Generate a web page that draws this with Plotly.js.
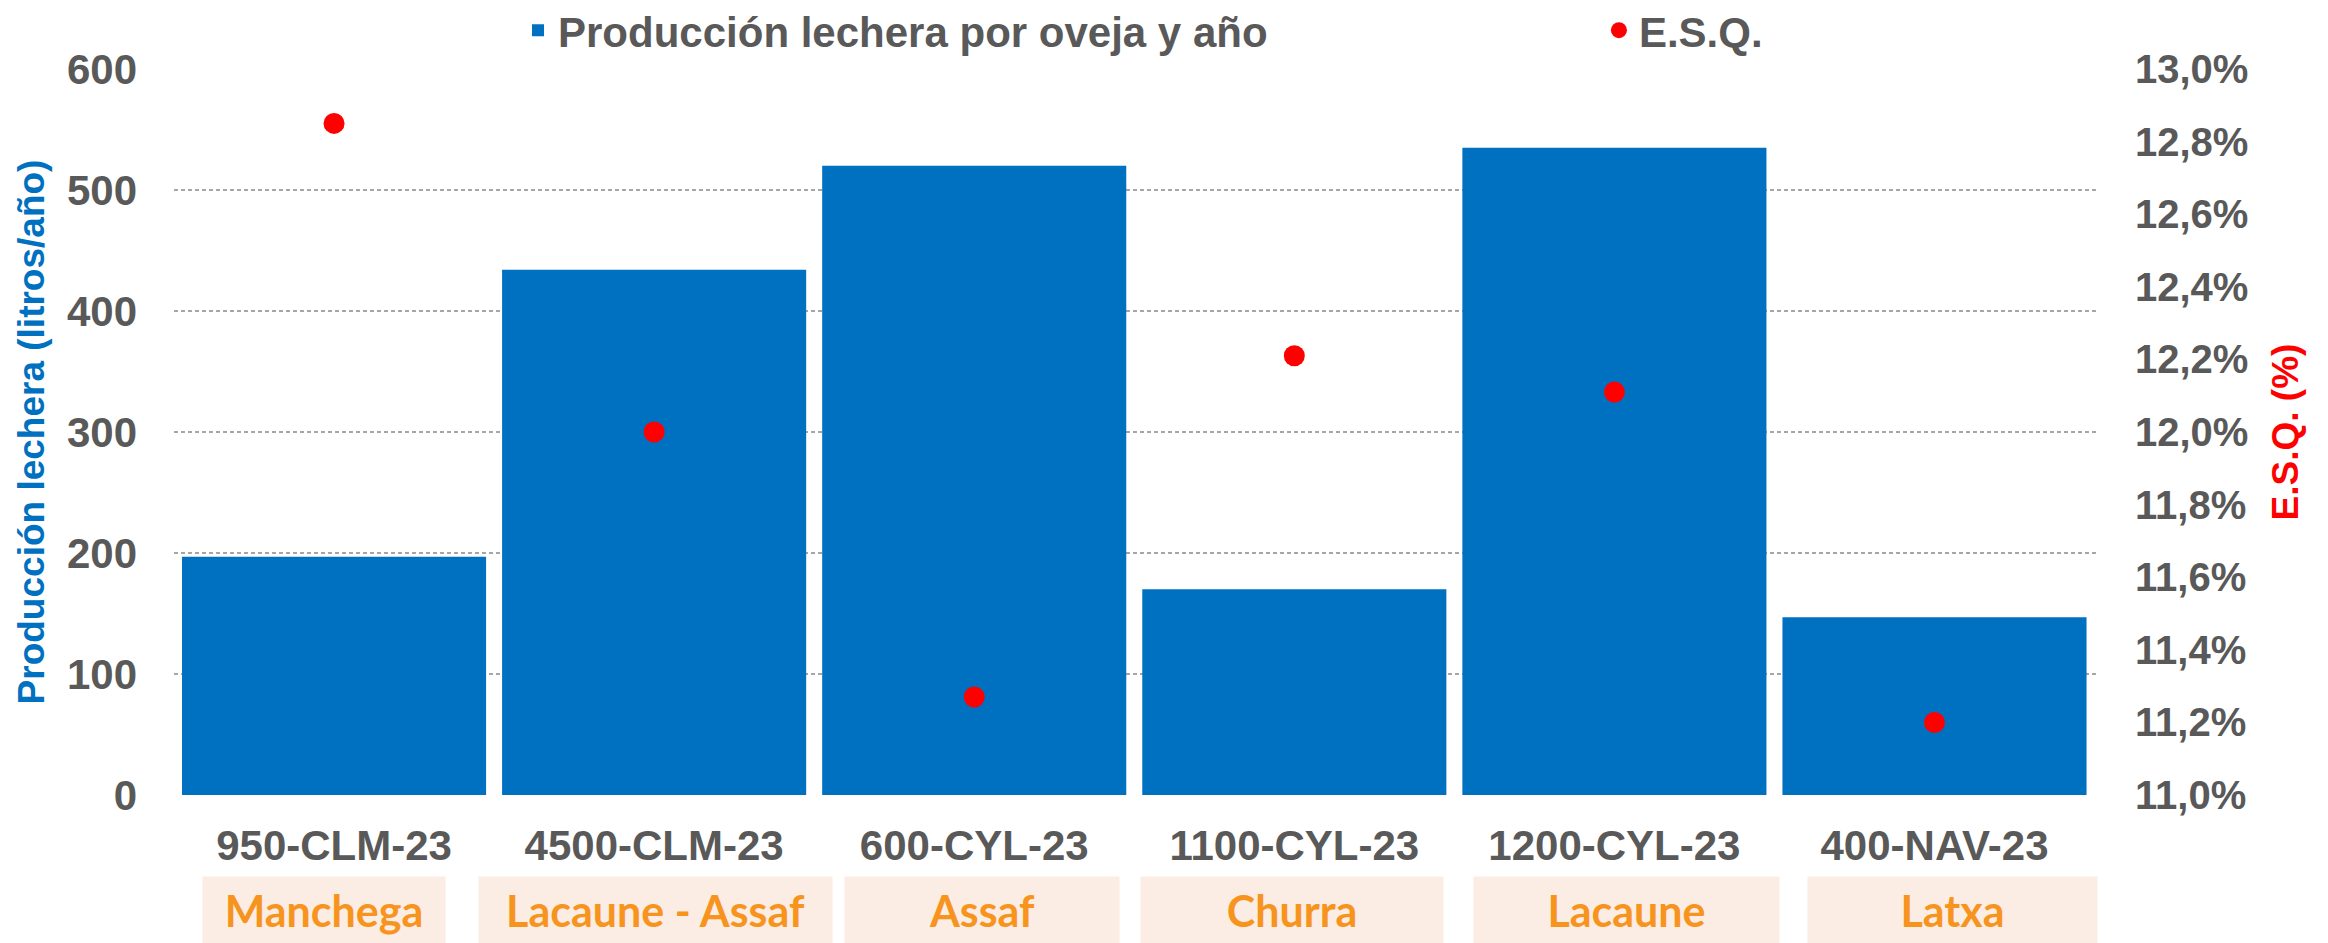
<!DOCTYPE html>
<html><head><meta charset="utf-8">
<script src="https://cdn.plot.ly/plotly-3.0.1.min.js"></script>
<style>html,body{margin:0;padding:0;background:#fff}#chart{width:2328px;height:943px}</style>
</head><body><div id="chart"></div>
<script>
// ---- data ----
const farms = ['950-CLM-23', '4500-CLM-23', '600-CYL-23', '1100-CYL-23', '1200-CYL-23', '400-NAV-23'];
const breeds = ['Manchega', 'Lacaune - Assaf', 'Assaf', 'Churra', 'Lacaune', 'Latxa'];
const milkPerEwe = [197, 434, 520, 170, 535, 147];
const esq = [12.85, 12.0, 11.27, 12.21, 12.11, 11.2];
const leftTicks = [0, 100, 200, 300, 400, 500, 600];
const rightTicks = [11.0, 11.2, 11.4, 11.6, 11.8, 12.0, 12.2, 12.4, 12.6, 12.8, 13.0];
const rightTickText = rightTicks.map(v => v.toFixed(1).replace('.', ',') + '%');
const barName = 'Producción lechera por oveja y año';
const dotName = 'E.S.Q.';
const leftTitle = 'Producción lechera (litros/año)';
const rightTitle = 'E.S.Q. (%)';

// ---- styling only ----
const breedBoxWidths = [242, 353, 274, 302, 305, 289];
const breedBoxShifts = [-10, 1, 8, -2, 12, 18];
const FONT = 'Liberation Sans, Arial, sans-serif';
const GREY = '#595959';

const traces = [
  {
    type: 'bar', name: barName, x: farms, y: milkPerEwe,
    marker: {color: '#0070C0'}, yaxis: 'y', legend: 'legend'
  },
  {
    type: 'scatter', mode: 'markers', name: dotName, x: farms, y: esq,
    marker: {color: '#FF0000', size: 21}, yaxis: 'y2', legend: 'legend2'
  }
];

const annotations = breeds.map((b, i) => ({
  xref: 'x', yref: 'paper', x: farms[i], y: -0.1116, yanchor: 'top',
  xanchor: 'center', xshift: breedBoxShifts[i],
  text: b, showarrow: false,
  width: breedBoxWidths[i], height: 67, borderpad: 0,
  bgcolor: '#FBECE4', valign: 'middle',
  font: {family: 'Lato, Noto Sans, sans-serif', size: 43, color: '#F7941D', weight: 'bold'}
}));

const legendFont = {family: FONT, size: 42, color: GREY, weight: 'bold'};

const layout = {
  width: 2328, height: 943,
  margin: {l: 174, r: 230, t: 69, b: 148, pad: 0, autoexpand: false},
  paper_bgcolor: '#FFFFFF', plot_bgcolor: '#FFFFFF',
  separators: ',.',
  bargap: 0.05,
  font: {family: FONT, color: GREY},
  showlegend: true,
  legend: {
    orientation: 'h', x: 0.1788, xanchor: 'left', y: 1.1, yanchor: 'top',
    font: legendFont, bgcolor: 'rgba(0,0,0,0)'
  },
  legend2: {
    orientation: 'h', x: 0.7406, xanchor: 'left', y: 1.1, yanchor: 'top',
    font: legendFont, bgcolor: 'rgba(0,0,0,0)'
  },
  xaxis: {
    type: 'category', showgrid: false, showline: false, zeroline: false,
    ticks: '', ticklabelstandoff: 22, automargin: false,
    tickfont: {family: FONT, size: 42, color: GREY, weight: 'bold'}
  },
  yaxis: {
    range: [0, 600], tickvals: leftTicks, showline: false, zeroline: false,
    showgrid: true, gridcolor: '#A6A6A6', gridwidth: 2, griddash: '4px,3px',
    ticks: '', ticklabelstandoff: 36, automargin: false,
    tickfont: {family: FONT, size: 42, color: GREY, weight: 'bold'},
    title: {text: leftTitle, standoff: 10,
      font: {family: FONT, size: 37, color: '#0070C0', weight: 'bold'}}
  },
  yaxis2: {
    range: [11.0, 13.0], tickvals: rightTicks, ticktext: rightTickText,
    overlaying: 'y', side: 'right', showgrid: false, showline: false, zeroline: false,
    ticks: '', ticklabelstandoff: 36, automargin: false,
    tickfont: {family: FONT, size: 40, color: GREY, weight: 'bold'},
    title: {text: rightTitle, standoff: 24,
      font: {family: FONT, size: 37, color: '#FF0000', weight: 'bold'}}
  },
  annotations: annotations
};

Plotly.newPlot('chart', traces, layout, {displayModeBar: false, responsive: false});
</script>
</body></html>
